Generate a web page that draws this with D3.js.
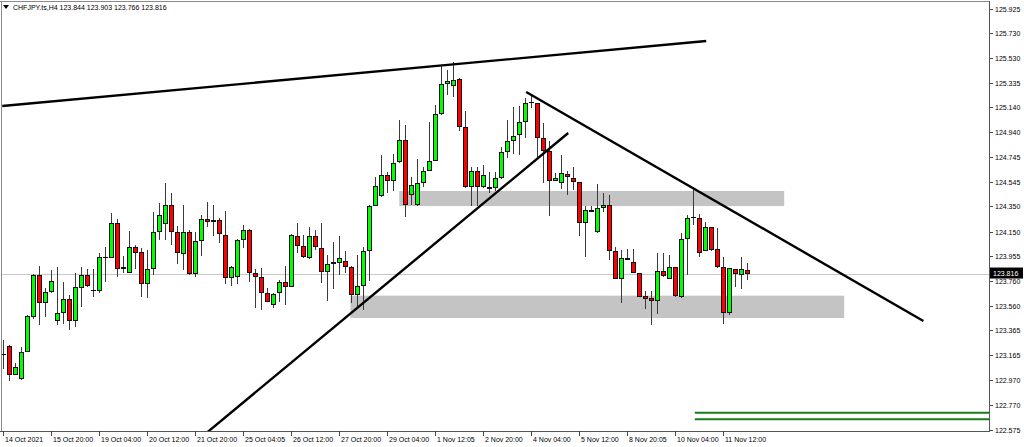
<!DOCTYPE html>
<html><head><meta charset="utf-8">
<script src="https://cdn.jsdelivr.net/npm/d3@7"></script>
<style>
html,body{margin:0;padding:0;background:#fff;}
svg{display:block;}
text{font-family:"Liberation Sans",Arial,sans-serif;font-size:7px;fill:#000;}
</style>
</head><body>
<svg id="chart" width="1024" height="447"></svg>
<script>
const symbolTitle = "CHFJPY.ts,H4";
const headerValues = ["123.844", "123.903", "123.766", "123.816"];

const opens = [123.168,123.239,123.009,122.974,123.194,123.473,123.807,123.579,123.672,123.441,
123.504,123.611,123.441,123.701,123.802,123.679,123.677,123.945,123.937,124.216,
123.850,123.818,124.025,123.985,123.733,123.852,124.149,124.210,124.364,124.144,
123.972,124.149,123.815,124.075,124.248,124.224,124.242,124.123,123.778,123.786,
124.083,124.163,123.818,123.786,123.659,123.566,123.659,123.751,123.711,124.117,
124.035,123.937,124.115,124.022,123.826,123.890,123.902,123.916,123.870,123.645,
123.713,123.995,124.356,124.433,124.598,124.555,124.704,124.879,124.441,124.361,
124.534,124.632,124.712,125.083,125.324,125.311,125.364,124.985,124.502,124.632,
124.502,124.507,124.494,124.574,124.787,124.868,124.916,125.024,125.174,125.171,
124.897,124.791,124.555,124.534,124.606,124.574,124.542,124.216,124.322,124.144,
124.335,124.361,123.995,123.773,123.942,123.910,123.823,123.637,123.619,123.601,
123.840,123.770,123.870,123.629,124.088,124.261,124.260,123.998,124.189,124.009,
123.866,123.504,123.852,123.804,123.844];
const highs = [123.287,123.247,123.107,123.234,123.486,123.812,123.876,123.699,123.844,123.870,
123.746,123.645,123.823,123.870,123.850,123.850,123.977,124.025,124.295,124.248,
123.956,124.155,124.046,124.017,124.003,124.308,124.375,124.539,124.455,124.194,
124.361,124.162,124.149,124.282,124.383,124.361,124.258,124.316,123.876,124.091,
124.202,124.170,123.850,123.858,123.703,123.664,123.765,123.876,124.131,124.216,
124.123,124.189,124.163,124.221,123.964,124.069,124.115,123.995,123.876,123.964,
124.025,124.361,124.587,124.759,124.626,124.767,125.038,124.998,124.587,124.725,
124.666,125.024,125.157,125.476,125.436,125.499,125.372,125.112,124.661,124.661,
124.680,124.626,124.626,124.821,125.038,125.145,125.153,125.210,125.229,125.173,
125.012,124.871,124.614,124.759,124.634,124.661,124.544,124.353,124.353,124.526,
124.455,124.441,124.030,124.003,124.009,124.009,123.824,123.679,123.677,123.977,
123.977,123.960,123.872,124.141,124.278,124.481,124.287,124.229,124.190,124.176,
123.945,123.860,123.856,123.950,123.903];
const lows = [123.056,122.963,123.005,122.969,123.188,123.454,123.404,123.473,123.659,123.407,
123.415,123.367,123.393,123.552,123.711,123.632,123.659,123.751,123.937,123.786,
123.823,123.818,123.852,123.632,123.624,123.804,124.083,124.083,124.043,123.888,
123.844,123.808,123.791,123.956,124.189,124.115,124.061,123.733,123.719,123.733,
124.017,123.751,123.539,123.526,123.586,123.539,123.592,123.566,123.709,123.977,
123.937,123.929,124.003,123.743,123.598,123.691,123.804,123.823,123.579,123.539,
123.526,123.759,124.353,124.429,124.455,124.475,124.696,124.268,124.361,124.357,
124.507,124.628,124.708,125.077,125.237,125.218,124.950,124.498,124.353,124.353,
124.498,124.455,124.473,124.572,124.739,124.767,124.759,124.892,125.131,124.746,
124.534,124.274,124.552,124.486,124.441,124.481,124.117,123.945,124.306,124.142,
124.308,123.924,123.769,123.584,123.920,123.820,123.629,123.531,123.407,123.494,
123.792,123.769,123.629,123.619,123.804,124.202,123.945,123.995,123.999,123.864,
123.415,123.486,123.711,123.693,123.766];
const closes = [123.168,123.009,123.072,123.194,123.481,123.807,123.579,123.667,123.754,123.504,
123.611,123.441,123.706,123.802,123.719,123.679,123.945,123.945,124.216,123.852,
123.870,124.025,123.977,123.733,123.852,124.149,124.282,124.364,124.144,123.976,
124.149,123.815,124.075,124.248,124.224,124.242,124.128,123.778,123.870,124.083,
124.163,123.818,123.786,123.659,123.592,123.653,123.751,123.711,124.123,124.035,
123.945,124.115,124.025,123.826,123.890,123.908,123.937,123.866,123.645,123.713,
123.993,124.356,124.513,124.598,124.555,124.698,124.879,124.361,124.518,124.534,
124.632,124.712,125.083,125.324,125.351,125.356,124.985,124.502,124.632,124.502,
124.598,124.494,124.574,124.787,124.867,124.914,125.024,125.175,125.174,124.897,
124.791,124.555,124.579,124.614,124.582,124.542,124.216,124.322,124.308,124.335,
124.361,123.995,123.773,123.942,123.924,123.823,123.632,123.611,123.601,123.836,
123.796,123.866,123.637,124.088,124.256,124.261,123.982,124.189,124.003,123.866,
123.504,123.858,123.812,123.850,123.816];

const timeLabels = ["14 Oct 2021","15 Oct 20:00","19 Oct 04:00","20 Oct 12:00","21 Oct 20:00",
"25 Oct 04:05","26 Oct 12:00","27 Oct 20:00","29 Oct 04:00","1 Nov 12:05","2 Nov 20:00",
"4 Nov 04:00","5 Nov 12:00","8 Nov 20:05","10 Nov 04:00","11 Nov 12:00"];
const timeLabelBars = [0,8,16,24,32,40,48,56,64,72,80,88,96,104,112,120];

const priceTicks = [125.925,125.730,125.530,125.335,125.140,124.940,124.745,124.545,124.350,
124.150,123.955,123.760,123.560,123.365,123.165,122.970,122.770,122.575];
const lastPrice = 123.816;

// drawn objects in (bar index, price) coordinates
const trendLineBars   = [[-0.12, 117.2], [33.9, 94.2], [87.2, 153.4]];
const trendLinePrices = [[125.149, 125.666], [122.547, 124.934], [125.261, 123.438]];
const zoneBars   = [[66.05, 130.2], [57.9, 140.2]];
const zonePrices = [[124.473, 124.353], [123.640, 123.462]];
const greenLevelPrices = [122.709, 122.656];
const greenLevelStartBar = 115.3;

const svg = d3.select("#chart");
const W = 1024, H = 447;
const plotL = 2, plotT = 2, plotR = 989, plotB = 431;

const x = d3.scaleLinear().domain([0, 124]).range([3, 747]);
const y = d3.scaleLinear().domain([122.575, 125.925]).range([429.5, 8.5]);

svg.append("rect").attr("width", W).attr("height", H).attr("fill", "#fff");

const defs = svg.append("defs");
defs.append("clipPath").attr("id", "plotclip").append("rect")
  .attr("x", plotL).attr("y", plotT).attr("width", plotR - plotL).attr("height", plotB - plotT);

const plot = svg.append("g").attr("clip-path", "url(#plotclip)");

// zones
plot.selectAll("rect.zone").data(zoneBars).join("rect")
  .attr("class", "zone")
  .attr("x", d => x(d[0]))
  .attr("width", d => x(d[1]) - x(d[0]))
  .attr("y", (d, i) => y(zonePrices[i][0]))
  .attr("height", (d, i) => y(zonePrices[i][1]) - y(zonePrices[i][0]))
  .attr("fill", "#c4c4c4");

// last price line
plot.append("line")
  .attr("x1", plotL).attr("x2", plotR)
  .attr("y1", Math.round(y(lastPrice)) + 0.5).attr("y2", Math.round(y(lastPrice)) + 0.5)
  .attr("stroke", "#c8c8c8").attr("stroke-width", 1);

// candles
const bars = opens.map((o, i) => ({i, o, h: highs[i], l: lows[i], c: closes[i]}));
const cg = plot.append("g").attr("shape-rendering", "crispEdges");
bars.forEach(b => {
  const cx = Math.round(x(b.i));
  const g = cg.append("g");
  g.append("rect").attr("x", cx).attr("width", 1)
    .attr("y", y(b.h)).attr("height", Math.max(1, y(b.l) - y(b.h)))
    .attr("fill", "#3a3a3a");
  const top = y(Math.max(b.o, b.c)), bot = y(Math.min(b.o, b.c));
  if (b.o === b.c) {
    g.append("rect").attr("x", cx - 2).attr("width", 5)
      .attr("y", top - 0.5).attr("height", 1).attr("fill", "#000");
  } else {
    const hgt = Math.max(2, bot - top);
    g.append("rect").attr("x", cx - 2).attr("width", 5)
      .attr("y", top).attr("height", hgt).attr("fill", "#111");
    if (hgt > 2) {
      g.append("rect").attr("x", cx - 1).attr("width", 3)
        .attr("y", top + 1).attr("height", hgt - 2)
        .attr("fill", b.c > b.o ? "#00ff00" : "#ff0000");
    }
  }
});

// trend lines
plot.selectAll("line.trend").data(trendLineBars).join("line")
  .attr("class", "trend")
  .attr("x1", d => x(d[0])).attr("x2", d => x(d[1]))
  .attr("y1", (d, i) => y(trendLinePrices[i][0]))
  .attr("y2", (d, i) => y(trendLinePrices[i][1]))
  .attr("stroke", "#000").attr("stroke-width", 2.4).attr("stroke-linecap", "butt");

// green levels
plot.selectAll("line.lvl").data(greenLevelPrices).join("line")
  .attr("class", "lvl")
  .attr("x1", x(greenLevelStartBar)).attr("x2", plotR)
  .attr("y1", d => y(d)).attr("y2", d => y(d))
  .attr("stroke", "#1a7d1a").attr("stroke-width", 2);

// frame
const frame = svg.append("g").attr("shape-rendering", "crispEdges");
frame.append("line").attr("x1", 0).attr("x2", plotR + 1).attr("y1", 1.5).attr("y2", 1.5).attr("stroke", "#8a8a8a");
frame.append("line").attr("x1", 1.5).attr("x2", 1.5).attr("y1", 1).attr("y2", plotB).attr("stroke", "#8a8a8a");
frame.append("line").attr("x1", plotR + 0.5).attr("x2", plotR + 0.5).attr("y1", 1).attr("y2", plotB + 1).attr("stroke", "#555");
frame.append("line").attr("x1", 0).attr("x2", plotR + 1).attr("y1", plotB + 0.5).attr("y2", plotB + 0.5).attr("stroke", "#555");

// right axis
const ya = svg.append("g");
priceTicks.forEach(p => {
  const yy = Math.round(y(p)) + 0.5;
  ya.append("line").attr("x1", plotR + 1).attr("x2", plotR + 4).attr("y1", yy).attr("y2", yy)
    .attr("stroke", "#444").attr("shape-rendering", "crispEdges");
  ya.append("text").attr("x", plotR + 6).attr("y", yy).attr("dy", "0.35em").text(p.toFixed(3));
});
// last price label
const ly = y(lastPrice);
ya.append("rect").attr("x", plotR + 1).attr("y", ly - 6).attr("width", 33).attr("height", 11).attr("fill", "#000");
ya.append("text").attr("x", plotR + 4).attr("y", ly).attr("dy", "0.35em").style("fill", "#fff").text(lastPrice.toFixed(3));

// bottom axis
const xa = svg.append("g");
timeLabelBars.forEach((bi, k) => {
  const xx = Math.round(x(bi)) + 0.5;
  xa.append("line").attr("x1", xx).attr("x2", xx).attr("y1", plotB).attr("y2", plotB + 5)
    .attr("stroke", "#444").attr("shape-rendering", "crispEdges");
  xa.append("text").attr("x", xx + 1.5).attr("y", 441.5).text(timeLabels[k]);
});

// header
svg.append("path").attr("d", "M3,5 L9,5 L6,9 Z").attr("fill", "#000");
svg.append("text").attr("x", 13).attr("y", 10).text(symbolTitle + "  " + headerValues.join(" "));
</script>
</body></html>
